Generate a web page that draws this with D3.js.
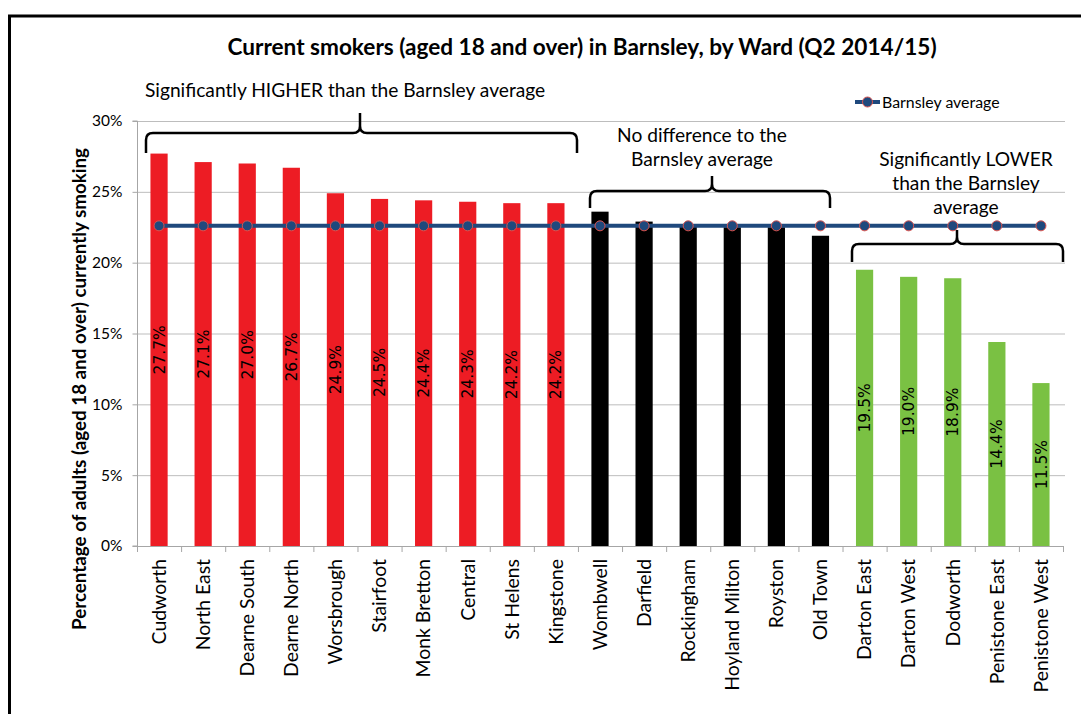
<!DOCTYPE html>
<html>
<head>
<meta charset="utf-8">
<script src="https://cdn.jsdelivr.net/npm/d3@7"></script>
<style>
  html, body { margin: 0; padding: 0; background: #fff; }
  svg { display: block; }
  text { font-family: Lato, "Open Sans", sans-serif; fill: #000; }
</style>
</head>
<body>
<svg id="chart" width="1081" height="714"></svg>
<script>
// Ward names, ordered from highest to lowest smoking prevalence
const wards = [
  "Cudworth", "North East", "Dearne South", "Dearne North", "Worsbrough",
  "Stairfoot", "Monk Bretton", "Central", "St Helens", "Kingstone",
  "Wombwell", "Darfield", "Rockingham", "Hoyland Milton", "Royston", "Old Town",
  "Darton East", "Darton West", "Dodworth", "Penistone East", "Penistone West"
];
// Percentage of adults (18+) currently smoking, Q2 2014/15
const smokingPct = [
  27.7, 27.1, 27.0, 26.7, 24.9, 24.5, 24.4, 24.3, 24.2, 24.2,
  23.6, 22.9, 22.7, 22.5, 22.5, 21.9,
  19.5, 19.0, 18.9, 14.4, 11.5
];
// Significance group relative to the borough average
const groups = [
  "higher", "higher", "higher", "higher", "higher", "higher", "higher", "higher", "higher", "higher",
  "same", "same", "same", "same", "same", "same",
  "lower", "lower", "lower", "lower", "lower"
];
// Barnsley average, repeated for every ward
const barnsleyAverage = wards.map(() => 22.6);
const yTicks = [0, 5, 10, 15, 20, 25, 30];

const groupFill = { higher: "#ED1C24", same: "#000000", lower: "#7AC143" };
const labelFill = { higher: "#000000", same: "#FFFFFF", lower: "#1a2a10" };

const svg = d3.select("#chart");
const margin = { left: 137, right: 1063, top: 121, bottom: 546 };

// Outer frame
svg.append("rect")
  .attr("x", 9.5).attr("y", 16)
  .attr("width", 1100).attr("height", 800)
  .attr("fill", "none").attr("stroke", "#000").attr("stroke-width", 3);

const x = d3.scaleBand()
  .domain(wards)
  .range([margin.left, margin.right])
  .paddingInner(0.61)
  .paddingOuter(0.305);

const y = d3.scaleLinear()
  .domain([0, 30])
  .range([margin.bottom, margin.top]);

// Horizontal gridlines
svg.append("g")
  .selectAll("line")
  .data(yTicks.filter(d => d > 0))
  .join("line")
  .attr("x1", margin.left).attr("x2", margin.right + 2)
  .attr("y1", d => y(d) + 0.5).attr("y2", d => y(d) + 0.5)
  .attr("stroke", "#BDBDBD").attr("stroke-width", 1);

// Y axis
const yAxis = svg.append("g")
  .attr("transform", `translate(${margin.left + 0.5},0)`)
  .call(d3.axisLeft(y).tickValues(yTicks).tickFormat(d => d + "%").tickSize(5).tickPadding(10));
yAxis.select(".domain").attr("stroke", "#A6A6A6").attr("d", `M-5,${y(0)}H0V${y(30)}H-5`);
yAxis.selectAll(".tick line").attr("stroke", "#A6A6A6");
yAxis.selectAll(".tick text")
  .style("font-family", "Lato, 'Open Sans', sans-serif")
  .style("font-size", "15.5px").attr("fill", "#000");

// X axis line with tick marks at band boundaries
const step = x.step();
const xAxisG = svg.append("g");
xAxisG.append("line")
  .attr("x1", margin.left).attr("x2", margin.right)
  .attr("y1", y(0) + 0.5).attr("y2", y(0) + 0.5)
  .attr("stroke", "#A6A6A6");
xAxisG.selectAll("line.tick")
  .data(d3.range(wards.length + 1))
  .join("line")
  .attr("class", "tick")
  .attr("x1", i => margin.left + i * step + 0.5)
  .attr("x2", i => margin.left + i * step + 0.5)
  .attr("y1", y(0)).attr("y2", y(0) + 6)
  .attr("stroke", "#A6A6A6");

// Category labels, rotated
xAxisG.selectAll("text")
  .data(wards)
  .join("text")
  .attr("transform", d => `translate(${x(d) + x.bandwidth() / 2},${y(0) + 13}) rotate(-90)`)
  .attr("text-anchor", "end")
  .attr("dy", "0.35em")
  .style("font-size", "19.4px")
  .text(d => d);

// Bars
svg.append("g")
  .selectAll("rect")
  .data(wards)
  .join("rect")
  .attr("x", d => x(d))
  .attr("width", x.bandwidth())
  .attr("y", (d, i) => y(smokingPct[i]))
  .attr("height", (d, i) => y(0) - y(smokingPct[i]))
  .attr("fill", (d, i) => groupFill[groups[i]]);

// Average line with markers
const cx = d => x(d) + x.bandwidth() / 2;
const avgLine = d3.line()
  .x((d, i) => cx(wards[i]))
  .y(d => y(d));
svg.append("path")
  .datum(barnsleyAverage)
  .attr("d", avgLine)
  .attr("fill", "none")
  .attr("stroke", "#1F497D")
  .attr("stroke-width", 4);
svg.append("g")
  .selectAll("circle")
  .data(barnsleyAverage)
  .join("circle")
  .attr("cx", (d, i) => cx(wards[i]))
  .attr("cy", d => y(d))
  .attr("r", 5)
  .attr("fill", "#1F497D")
  .attr("stroke", "#D9534F")
  .attr("stroke-width", 1);

// Value labels, centred in each bar
svg.append("g")
  .selectAll("text")
  .data(wards)
  .join("text")
  .attr("transform", (d, i) => `translate(${cx(d)},${(y(smokingPct[i]) + y(0)) / 2}) rotate(-90)`)
  .attr("text-anchor", "middle")
  .attr("dy", "0.36em")
  .style("font-family", "'DejaVu Sans', Verdana, sans-serif")
  .style("font-size", "15.5px")
  .attr("fill", (d, i) => labelFill[groups[i]])
  .text((d, i) => smokingPct[i].toFixed(1) + "%");

// Title
svg.append("text")
  .attr("x", 582).attr("y", 55)
  .attr("text-anchor", "middle")
  .style("font-size", "22.6px").style("font-weight", "bold")
  .text("Current smokers (aged 18 and over) in Barnsley, by Ward (Q2 2014/15)");

// Y axis title
svg.append("text")
  .attr("transform", "translate(86,389) rotate(-90)")
  .attr("text-anchor", "middle")
  .style("font-size", "18.8px").style("font-weight", "bold")
  .text("Percentage of adults (aged 18 and over) currently smoking");

// Legend
const legend = svg.append("g").attr("transform", "translate(855,102)");
legend.append("line").attr("x1", 0).attr("x2", 25).attr("y1", 0).attr("y2", 0)
  .attr("stroke", "#1F497D").attr("stroke-width", 4);
legend.append("circle").attr("cx", 12.5).attr("cy", 0).attr("r", 5)
  .attr("fill", "#1F497D").attr("stroke", "#D9534F").attr("stroke-width", 1);
legend.append("text").attr("x", 27).attr("y", 6)
  .style("font-size", "15.9px").text("Barnsley average");

// Curly braces marking the significance groups
function brace(x1, x2, yEnd, yMid, xTip, yTip) {
  const r = 7;
  const p = d3.path();
  p.moveTo(x1, yEnd);
  p.lineTo(x1, yMid + r);
  p.quadraticCurveTo(x1, yMid, x1 + r, yMid);
  p.lineTo(xTip - r, yMid);
  p.quadraticCurveTo(xTip, yMid, xTip, yMid - r);
  p.lineTo(xTip, yTip);
  p.moveTo(xTip, yMid - r);
  p.quadraticCurveTo(xTip, yMid, xTip + r, yMid);
  p.lineTo(x2 - r, yMid);
  p.quadraticCurveTo(x2, yMid, x2, yMid + r);
  p.lineTo(x2, yEnd);
  return p.toString();
}
const braces = svg.append("g")
  .attr("fill", "none").attr("stroke", "#000").attr("stroke-width", 2.5);
braces.append("path").attr("d", brace(146, 577, 153, 133, 360, 113));
braces.append("path").attr("d", brace(590, 830, 208, 191, 712, 176));
braces.append("path").attr("d", brace(852, 1063, 262, 244, 957, 230));

// Group annotations
const notes = svg.append("g").style("font-size", "19.2px");
notes.append("text").attr("x", 145).attr("y", 97)
  .text("Significantly HIGHER than the Barnsley average");
const n2 = notes.append("text").attr("text-anchor", "middle");
n2.append("tspan").attr("x", 702).attr("y", 142).text("No difference to the");
n2.append("tspan").attr("x", 702).attr("y", 166).text("Barnsley average");
const n3 = notes.append("text").attr("text-anchor", "middle");
n3.append("tspan").attr("x", 966).attr("y", 166).text("Significantly LOWER");
n3.append("tspan").attr("x", 966).attr("y", 190).text("than the Barnsley");
n3.append("tspan").attr("x", 966).attr("y", 214).text("average");
</script>
</body>
</html>
